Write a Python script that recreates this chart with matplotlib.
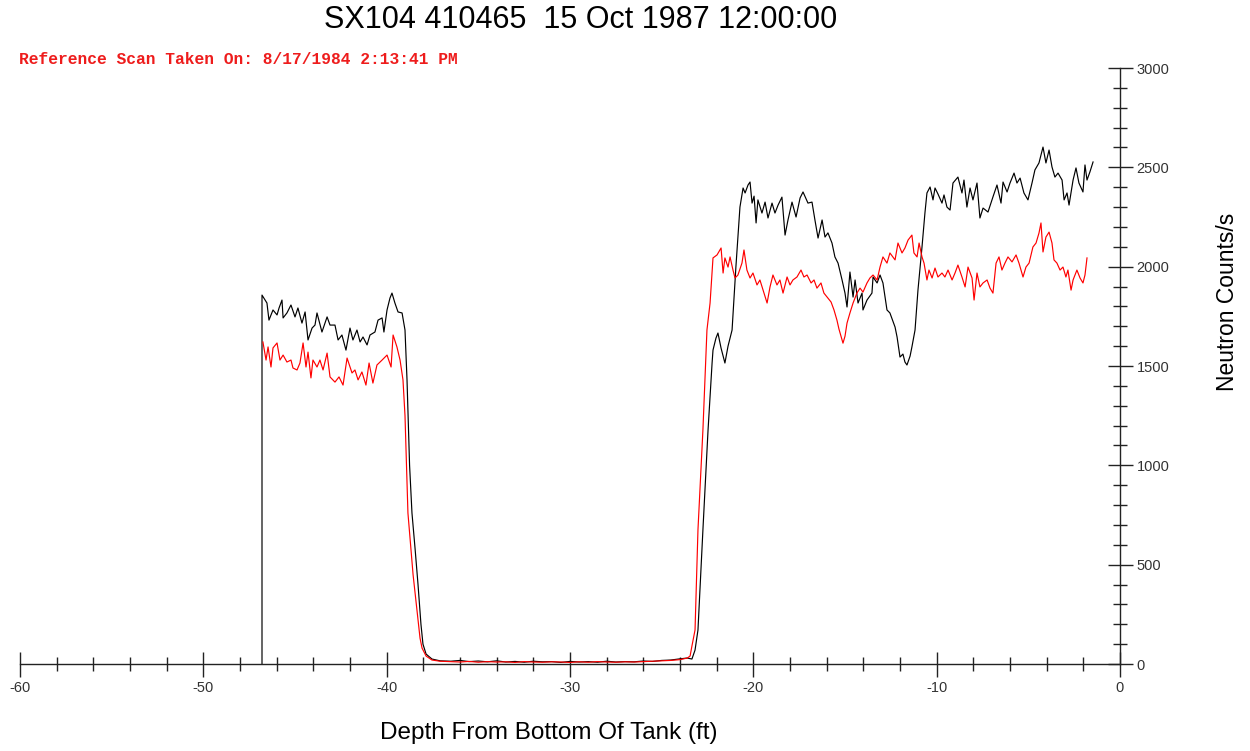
import matplotlib
matplotlib.use("Agg")
from matplotlib import pyplot as plt
from matplotlib.ticker import MultipleLocator

plt.rcParams["axes.unicode_minus"] = False

# depth (ft) / counts
black_depth = [-46.80, -46.80, -46.53, -46.42, -46.20, -45.98, -45.87, -45.71, -45.65, -45.44,
               -45.22, -45.00, -44.84, -44.62, -44.45, -44.29, -44.07, -43.91, -43.80, -43.53,
               -43.25, -43.09, -42.82, -42.65, -42.44, -42.22, -42.00, -41.84, -41.62, -41.45,
               -41.29, -41.07, -40.91, -40.64, -40.47, -40.25, -40.15, -39.98, -39.82, -39.71,
               -39.55, -39.38, -39.16, -39.00, -38.89, -38.75, -38.62, -38.45, -38.29, -38.13,
               -38.02, -37.85, -37.53, -37.09,
               -36.5, -36.0, -35.5, -35.0, -34.5, -34.0, -33.5, -33.0, -32.5, -32.0,
               -31.5, -31.0, -30.5, -30.0, -29.5, -29.0, -28.5, -28.0, -27.5, -27.0,
               -26.5, -26.0, -25.5, -25.0, -24.5, -24.0, -23.6,
               -23.35, -23.18, -23.02, -22.75, -22.47, -22.25, -22.20, -22.04, -21.93, -21.76,
               -21.55, -21.38, -21.16, -20.95, -20.73, -20.56, -20.45, -20.29, -20.18, -20.07,
               -19.96, -19.85, -19.75, -19.53, -19.36, -19.20, -18.98, -18.82, -18.65, -18.44,
               -18.27, -18.11, -17.89, -17.67, -17.45, -17.29, -17.02, -16.80, -16.64, -16.47,
               -16.25, -16.09, -15.93, -15.71, -15.55, -15.38, -15.16, -15.00, -14.89, -14.73,
               -14.56, -14.45, -14.29, -14.07, -14.02, -13.80, -13.53, -13.47, -13.25, -13.09,
               -12.93, -12.71, -12.55, -12.27, -12.16, -12.00, -11.84, -11.73, -11.62, -11.45,
               -11.35, -11.18, -11.02, -10.80, -10.64, -10.53, -10.36, -10.20, -10.09, -9.93,
               -9.71, -9.60, -9.44, -9.27, -9.11, -8.84, -8.62, -8.51, -8.35, -8.18,
               -8.02, -7.80, -7.64, -7.47, -7.20, -6.93, -6.71, -6.49, -6.38, -6.16,
               -6.00, -5.78, -5.62, -5.45, -5.24, -5.02, -4.80, -4.64, -4.42, -4.20,
               -4.04, -3.87, -3.71, -3.55, -3.38, -3.16, -3.05, -2.89, -2.78, -2.56,
               -2.40, -2.24, -2.02, -1.91, -1.80, -1.64, -1.47]
black_counts = [0, 1857, 1817, 1731, 1782, 1757, 1792, 1832, 1742, 1767,
                1807, 1747, 1792, 1716, 1772, 1631, 1691, 1706, 1767, 1671,
                1747, 1706, 1706, 1631, 1656, 1580, 1691, 1631, 1681, 1621,
                1646, 1606, 1656, 1671, 1731, 1742, 1671, 1782, 1842, 1867,
                1817, 1772, 1767, 1681, 1430, 1000, 760, 580, 400, 200,
                100, 50, 25, 16,
                14, 18, 12, 15, 11, 16, 10, 13, 9, 14,
                11, 12, 8, 13, 10, 12, 9, 14, 10, 12,
                11, 15, 13, 18, 20, 26, 30,
                25, 70, 171, 675, 1178, 1515, 1580, 1640, 1666, 1590,
                1515, 1600, 1681, 2000, 2300, 2396, 2371, 2411, 2426, 2320,
                2355, 2220, 2336, 2270, 2325, 2245, 2320, 2270, 2310, 2350,
                2159, 2235, 2325, 2250, 2346, 2376, 2320, 2325, 2235, 2144,
                2235, 2149, 2170, 2119, 2049, 2018, 1933, 1867, 1797, 1973,
                1847, 1933, 1817, 1867, 1782, 1832, 1867, 1948, 1918, 1958,
                1918, 1782, 1767, 1696, 1646, 1545, 1560, 1520, 1505, 1550,
                1596, 1681, 1882, 2099, 2270, 2371, 2401, 2336, 2396, 2366,
                2320, 2361, 2300, 2285, 2421, 2451, 2371, 2436, 2300, 2396,
                2336, 2421, 2245, 2295, 2275, 2351, 2411, 2320, 2426, 2376,
                2421, 2471, 2421, 2446, 2371, 2336, 2421, 2487, 2522, 2602,
                2522, 2587, 2502, 2451, 2471, 2436, 2336, 2371, 2310, 2436,
                2497, 2421, 2376, 2512, 2436, 2477, 2527]

ref_depth = [-46.75, -46.58, -46.47, -46.31, -46.20, -45.98, -45.82, -45.65, -45.44, -45.22,
             -45.11, -44.89, -44.73, -44.56, -44.40, -44.29, -44.13, -44.02, -43.80, -43.64,
             -43.47, -43.25, -43.09, -42.82, -42.60, -42.38, -42.16, -41.89, -41.73, -41.56,
             -41.35, -41.13, -40.96, -40.75, -40.53, -40.25, -39.98, -39.76, -39.65, -39.44,
             -39.27, -39.11, -39.00, -38.84, -38.56, -38.29, -38.18, -38.07, -37.85, -37.53,
             -37.09,
             -36.5, -36.0, -35.5, -35.0, -34.5, -34.0, -33.5, -33.0, -32.5, -32.0,
             -31.5, -31.0, -30.5, -30.0, -29.5, -29.0, -28.5, -28.0, -27.5, -27.0,
             -26.5, -26.0, -25.5, -25.0, -24.5, -24.0, -23.6,
             -23.45, -23.35, -23.18, -23.02, -22.75, -22.53, -22.36, -22.20, -21.98, -21.76,
             -21.65, -21.55, -21.38, -21.27, -21.11, -21.00, -20.84, -20.62, -20.51, -20.35,
             -20.18, -20.02, -19.80, -19.64, -19.47, -19.25, -19.09, -18.93, -18.71, -18.55,
             -18.38, -18.16, -18.00, -17.84, -17.62, -17.40, -17.24, -17.07, -16.85, -16.69,
             -16.53, -16.31, -16.15, -15.98, -15.76, -15.60, -15.44, -15.33, -15.11, -15.00,
             -14.89, -14.73, -14.56, -14.35, -14.18, -14.02, -13.80, -13.64, -13.47, -13.25,
             -13.09, -12.93, -12.71, -12.55, -12.27, -12.11, -11.89, -11.73, -11.56, -11.35,
             -11.24, -11.07, -10.96, -10.80, -10.69, -10.53, -10.42, -10.25, -10.09, -9.93,
             -9.71, -9.55, -9.38, -9.16, -9.00, -8.84, -8.62, -8.45, -8.29, -8.07,
             -7.96, -7.80, -7.64, -7.47, -7.25, -7.09, -6.93, -6.76, -6.60, -6.44,
             -6.27, -6.11, -5.89, -5.67, -5.51, -5.29, -5.13, -4.96, -4.75, -4.58,
             -4.42, -4.31, -4.20, -4.04, -3.87, -3.71, -3.60, -3.44, -3.27, -3.11,
             -2.95, -2.84, -2.67, -2.56, -2.35, -2.18, -2.02, -1.91, -1.80]
ref_counts = [1621, 1530, 1596, 1495, 1591, 1616, 1530, 1555, 1520, 1530,
              1490, 1480, 1515, 1616, 1495, 1570, 1440, 1530, 1495, 1530,
              1480, 1565, 1445, 1419, 1445, 1404, 1540, 1465, 1480, 1430,
              1470, 1404, 1515, 1414, 1505, 1530, 1555, 1495, 1656, 1596,
              1530, 1430, 1250, 760, 450, 221, 130, 80, 40, 20,
              14,
              12, 10, 13, 9, 12, 10, 11, 8, 12, 10,
              9, 11, 10, 8, 11, 9, 12, 10, 9, 11,
              10, 12, 14, 16, 18, 22, 30,
              40, 90, 171, 675, 1178, 1681, 1817, 2044, 2059, 2094,
              1968, 2044, 1998, 2049, 1983, 1943, 1958, 2018, 2084, 1983,
              1943, 1968, 1908, 1933, 1882, 1817, 1898, 1958, 1908, 1933,
              1867, 1948, 1908, 1933, 1948, 1983, 1948, 1958, 1918, 1933,
              1892, 1918, 1867, 1847, 1822, 1782, 1731, 1686, 1615, 1650,
              1716, 1767, 1817, 1867, 1892, 1872, 1918, 1943, 1958, 1933,
              1998, 2049, 2018, 2069, 2034, 2119, 2069, 2094, 2134, 2159,
              2069, 2049, 2119, 2049, 2018, 1933, 1983, 1943, 1993, 1948,
              1968, 1948, 1983, 1933, 1968, 2008, 1948, 1898, 1998, 1943,
              1832, 1968, 1898, 1918, 1933, 1892, 1867, 2018, 2049, 1983,
              2019, 2049, 2024, 2059, 2018, 1948, 1998, 2018, 2099, 2119,
              2169, 2220, 2074, 2149, 2174, 2119, 2034, 2018, 1983, 1998,
              1948, 1983, 1882, 1933, 1983, 1943, 1918, 1958, 2044]

title = "SX104 410465  15 Oct 1987 12:00:00"
ref_note = "Reference Scan Taken On: 8/17/1984 2:13:41 PM"
x_label = "Depth From Bottom Of Tank (ft)"
y_label = "Neutron Counts/s"

W, H = 1250, 751
fig = plt.figure(figsize=(W / 100, H / 100), dpi=100)
ax = fig.add_axes([20 / W, 87 / H, 1100 / W, 596 / H])

ax.plot(black_depth, black_counts, color="black", lw=0.85)
ax.plot(ref_depth, ref_counts, color="#ff0000", lw=0.85)

ax.set_xlim(-60, 0)
ax.set_ylim(0, 3000)
for s in ("left", "top"):
    ax.spines[s].set_visible(False)
for s in ("bottom", "right"):
    ax.spines[s].set_linewidth(1.0)
    ax.spines[s].set_color("#222222")

ax.yaxis.tick_right()
ax.xaxis.set_major_locator(MultipleLocator(10))
ax.xaxis.set_minor_locator(MultipleLocator(2))
ax.yaxis.set_major_locator(MultipleLocator(500))
ax.yaxis.set_minor_locator(MultipleLocator(100))
ax.tick_params(which="major", direction="inout", length=18, width=1.0, color="#222222",
               labelsize=10.5, labelcolor="#333333", labelfontfamily="Liberation Sans")
ax.tick_params(which="minor", direction="inout", length=9.5, width=1.0, color="#222222")
ax.tick_params(axis="x", which="major", pad=3)
ax.tick_params(axis="y", which="major", pad=3)

# no tick marks at the corner
ax.xaxis.get_major_ticks()[-1].tick1line.set_visible(False)
ax.yaxis.get_major_ticks()[0].tick2line.set_visible(False)

fig.text(581 / W, 1 - 20 / H, title, ha="center", va="center",
         fontsize=22, family="Liberation Sans")
fig.text(19 / W, 1 - 60 / H, ref_note, ha="left", va="center", color="#ee1c1c",
         fontsize=11.7, family="Liberation Mono", fontweight="bold")
fig.text(549 / W, 1 - 733 / H, x_label, ha="center", va="center",
         fontsize=17.5, family="Liberation Sans")
fig.text(1228 / W, 1 - 302 / H, y_label, ha="center", va="center", rotation=90,
         fontsize=16.5, family="Liberation Sans")

fig.savefig("out.png", dpi=100)
